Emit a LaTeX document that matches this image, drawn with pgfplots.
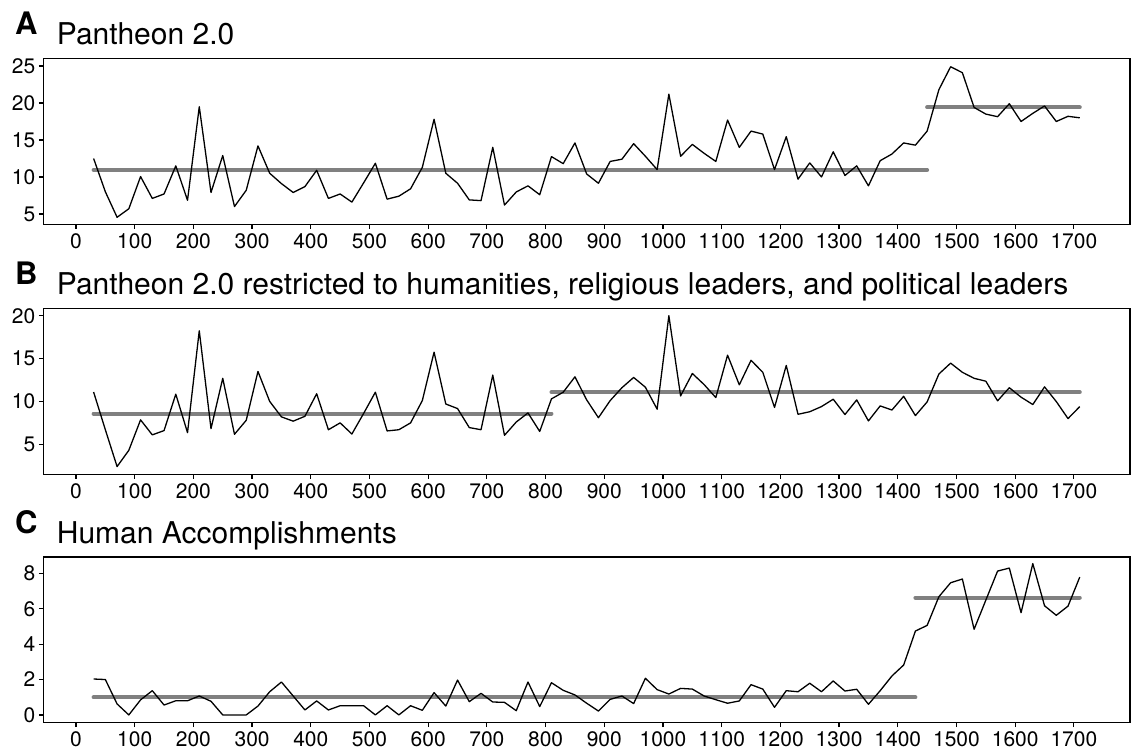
\documentclass[border=0pt]{standalone}
\usepackage{pgfplots}
\pgfplotsset{compat=1.18}
\usepackage{pgfplotstable}
\usepackage{fontspec}
\setmainfont{TeX Gyre Heros}
\pgfplotstableread{
x A B C
30 12.5 11.1 2.03
50 8.0 6.7 2.0
70 4.55 2.4 0.62
90 5.7 4.3 0.0
110 10.05 7.85 0.85
130 7.1 6.1 1.37
150 7.7 6.6 0.56
170 11.5 10.85 0.8
190 6.85 6.36 0.8
210 19.5 18.25 1.07
230 7.9 6.83 0.77
250 12.9 12.7 0
270 6.0 6.17 0
290 8.2 7.8 0
310 14.2 13.5 0.5
330 10.5 10.0 1.31
350 9.1 8.2 1.86
370 7.9 7.7 1.07
390 8.7 8.27 0.28
410 10.9 10.9 0.79
430 7.1 6.7 0.28
450 7.7 7.5 0.52
470 6.6 6.2 0.52
490 9.2 8.6 0.52
510 11.85 11.08 0.0
530 7.0 6.56 0.52
550 7.4 6.7 0.0
570 8.4 7.5 0.52
590 11.3 10.1 0.26
610 17.8 15.75 1.26
630 10.5 9.7 0.5
650 9.15 9.17 1.97
670 6.9 6.95 0.75
690 6.8 6.7 1.22
710 14.0 13.07 0.73
730 6.2 6.05 0.71
750 7.97 7.6 0.24
770 8.8 8.66 1.86
790 7.6 6.5 0.47
810 12.75 10.3 1.82
830 11.8 11.08 1.39
850 14.6 12.87 1.13
870 10.4 10.18 0.66
890 9.15 8.1 0.22
910 12.1 10.1 0.88
930 12.4 11.6 1.07
950 14.5 12.8 0.64
970 12.8 11.66 2.07
990 11.0 9.1 1.43
1010 21.2 20.0 1.18
1030 12.8 10.65 1.5
1050 14.4 13.26 1.46
1070 13.2 11.97 1.07
1090 12.1 10.45 0.86
1110 17.7 15.4 0.66
1130 14.0 11.94 0.79
1150 16.2 14.8 1.71
1170 15.8 13.4 1.46
1190 11.0 9.3 0.43
1210 15.45 14.2 1.37
1230 9.7 8.5 1.31
1250 11.9 8.8 1.79
1270 10.0 9.4 1.31
1290 13.4 10.26 1.92
1310 10.2 8.47 1.35
1330 11.5 10.18 1.45
1350 8.8 7.73 0.6
1370 12.2 9.48 1.37
1390 13.1 9.0 2.2
1410 14.6 10.6 2.82
1430 14.3 8.35 4.74
1450 16.2 9.95 5.06
1470 21.8 13.2 6.68
1490 24.9 14.47 7.47
1510 24.1 13.4 7.68
1530 19.4 12.7 4.84
1550 18.5 12.36 6.49
1570 18.15 10.07 8.13
1590 19.9 11.6 8.3
1610 17.5 10.5 5.78
1630 18.6 9.64 8.55
1650 19.6 11.7 6.17
1670 17.5 9.99 5.63
1690 18.2 8.0 6.15
1710 18.0 9.4 7.79
}\data
\definecolor{meanc}{RGB}{128,128,128}
\tikzset{letter/.style={anchor=base west, inner sep=0pt, font=\fontsize{31}{33}\selectfont\bfseries}}
\pgfplotsset{
  panel/.style={
    scale only axis, width=1086.7pt, height=165.6pt,
    xmin=-55.7, xmax=1795.6,
    xtick={0,100,...,1700},
    tick pos=left, tick align=outside,
    major tick length=4.5pt,
    every tick/.style={black, line width=1.2pt},
    axis line style={line width=1.5pt},
    tick label style={font=\fontsize{21}{23}\selectfont},
    xticklabel style={yshift=-1pt},
    /pgf/number format/assume math mode=true,
    /pgf/number format/1000 sep={},
    title style={at={(0,1)}, anchor=base west, xshift=13.4pt, yshift=8pt, font=\fontsize{30}{33}\selectfont, inner sep=0pt},
    clip=false,
  },
  dline/.style={black, line width=1.3pt, line join=round, no markers},
  mline/.style={meanc, line width=4pt, line cap=round, no markers},
}
\begin{document}
\begin{tikzpicture}
\useasboundingbox (0,0) rectangle (1134pt,753pt);
\begin{axis}[panel, at={(43.3pt,528.7pt)}, anchor=south west,
  ymin=3.6, ymax=25.99, ytick={5,10,15,20,25}, title={Pantheon 2.0}]
\addplot[mline] coordinates {(30,10.95) (1450,10.95)};
\addplot[mline] coordinates {(1450,19.4) (1710,19.4)};
\addplot[dline] table[x=x,y=A] {\data};
\node[letter] at (rel axis cs:0,1) [xshift=-28.3pt, yshift=23.7pt] {A};
\end{axis}
\begin{axis}[panel, at={(43.3pt,278.7pt)}, anchor=south west,
  ymin=1.5, ymax=20.82, ytick={5,10,15,20}, title={Pantheon 2.0 restricted to humanities, religious leaders, and political leaders}]
\addplot[mline] coordinates {(30,8.59) (810,8.59)};
\addplot[mline] coordinates {(810,11.08) (1710,11.08)};
\addplot[dline] table[x=x,y=B] {\data};
\node[letter] at (rel axis cs:0,1) [xshift=-28.3pt, yshift=24pt] {B};
\end{axis}
\begin{axis}[panel, at={(43.3pt,30.3pt)}, anchor=south west,
  ymin=-0.44, ymax=8.92, ytick={0,2,4,6,8}, title={Human Accomplishments}]
\addplot[mline] coordinates {(30,1.0) (1430,1.0)};
\addplot[mline] coordinates {(1430,6.63) (1710,6.63)};
\addplot[dline] table[x=x,y=C] {\data};
\node[letter] at (rel axis cs:0,1) [xshift=-28.3pt, yshift=24pt] {C};
\end{axis}
\end{tikzpicture}
\end{document}
